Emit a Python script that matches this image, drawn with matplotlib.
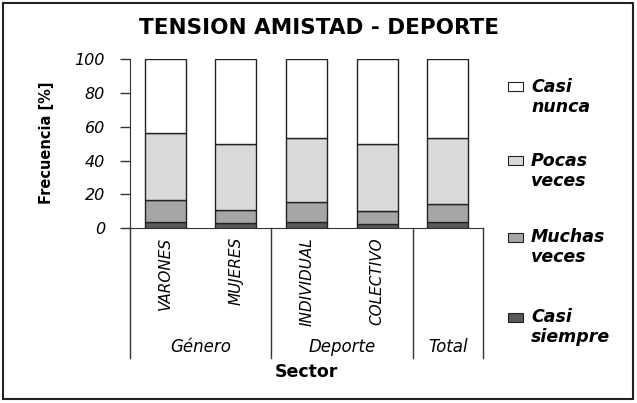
import matplotlib
matplotlib.use("Agg")
import matplotlib.pyplot as plt
from matplotlib.patches import Rectangle
from matplotlib.transforms import blended_transform_factory
import numpy as np

categories = ["VARONES", "MUJERES", "INDIVIDUAL", "COLECTIVO", ""]
groups = ["Género", "Deporte", "Total"]
group_centers = [0.5, 2.5, 4.0]
group_bounds = [-0.5, 1.5, 3.5, 4.5]
series_names = ["Casi siempre", "Muchas veces", "Pocas veces", "Casi nunca"]
legend_lines = [("Casi", "siempre"), ("Muchas", "veces"), ("Pocas", "veces"), ("Casi", "nunca")]
casi_siempre = [4.0, 3.0, 4.0, 2.5, 4.0]
muchas_veces = [12.5, 8.0, 11.5, 7.5, 10.5]
pocas_veces = [39.5, 38.5, 38.0, 39.5, 39.0]
casi_nunca = [44.0, 50.5, 46.5, 50.5, 46.5]
yticks = [0, 20, 40, 60, 80, 100]

colors = ["#595959", "#a6a6a6", "#d9d9d9", "#ffffff"]
FONT = ["DejaVu Sans"]

W, H = 637, 403
fig = plt.figure(figsize=(W / 100, H / 100), dpi=100)
fig.patch.set_facecolor("white")

ax = fig.add_axes([130 / W, 1 - 228.3 / H, (483.3 - 130) / W, 169.3 / H])
x = np.arange(len(categories))
bottom = np.zeros(len(categories))
for vals, c in zip([casi_siempre, muchas_veces, pocas_veces, casi_nunca], colors):
    ax.bar(x, vals, width=0.58, bottom=bottom, color=c, edgecolor="#222222", linewidth=1.0, zorder=3)
    bottom += np.array(vals)

ax.set_xlim(group_bounds[0], group_bounds[-1])
ax.set_ylim(0, 100)
ax.set_yticks(yticks)
ax.set_yticklabels([str(t) for t in yticks], fontsize=11.5, style="italic", family=FONT)
ax.tick_params(axis="y", length=7, width=1, direction="out", pad=11, color="#333333")
ax.set_xticks([])
for s in ["top", "right"]:
    ax.spines[s].set_visible(False)
ax.spines["left"].set_color("#333333")
ax.spines["bottom"].set_color("#333333")

trans = blended_transform_factory(ax.transData, ax.transAxes)
ybot = (228.3 - 358) / 169.3
for b in group_bounds:
    ax.plot([b, b], [0, ybot], transform=trans, color="#333333", lw=1, clip_on=False)

for xi, cat in zip(x, categories):
    ax.text(xi, (228.3 - 237) / 169.3, cat, transform=trans, rotation=90, ha="center", va="top",
            fontsize=11, style="italic", family=FONT)

for gc, g in zip(group_centers, groups):
    ax.text(gc, (228.3 - 352) / 169.3, g, transform=trans, ha="center", va="baseline",
            fontsize=12, style="italic", family=FONT)

fig.text(306 / W, 1 - 377 / H, "Sector", ha="center", va="baseline", fontsize=12.5, fontweight="bold",
         family=FONT)
fig.text(47 / W, 1 - 143 / H, "Frecuencia [%]", rotation=90, ha="center", va="center", fontsize=10.5,
         fontweight="bold", family=FONT)
fig.text(319 / W, 1 - 34 / H, "TENSION AMISTAD - DEPORTE", ha="center", va="baseline", fontsize=15.5,
         fontweight="bold", family=FONT)

# legend (top = Casi nunca)
leg_y = [317.5, 237.5, 160.5, 86.5]
for yy, (l1, l2), c in zip(leg_y, legend_lines, colors):
    fig.patches.append(Rectangle((508 / W, 1 - (yy + 4.5) / H), 15 / W, 9 / H, transform=fig.transFigure,
                                 facecolor=c, edgecolor="#222222", lw=0.8))
    fig.text(531 / W, 1 - (yy + 5) / H, l1, ha="left", va="baseline", fontsize=12.5, fontweight="bold",
             style="italic", family=FONT)
    fig.text(531 / W, 1 - (yy + 25) / H, l2, ha="left", va="baseline", fontsize=12.5, fontweight="bold",
             style="italic", family=FONT)

# outer frame
fig.patches.append(Rectangle((3 / W, 4 / H), 630 / W, 396 / H, transform=fig.transFigure,
                             facecolor="none", edgecolor="#222222", lw=1.5))

fig.savefig("out.png", dpi=100)
